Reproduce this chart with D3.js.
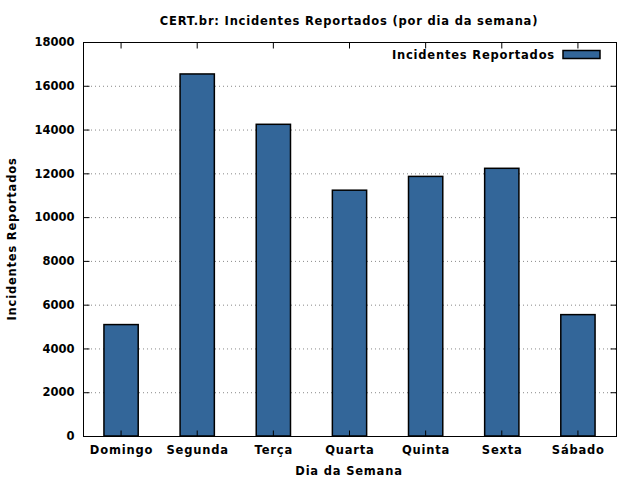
<!DOCTYPE html>
<html><head><meta charset="utf-8">
<script src="https://cdn.jsdelivr.net/npm/d3@7"></script>
<style>body{margin:0;background:#fff}text{font-family:"DejaVu Sans",sans-serif;font-weight:bold;font-size:11.5px;fill:#000;letter-spacing:0.8px}</style>
</head><body>
<svg id="c" width="640" height="480"></svg>
<script>
const categories = ["Domingo","Segunda","Terça","Quarta","Quinta","Sexta","Sábado"];
const values = [5090, 16540, 14240, 11230, 11860, 12230, 5545];
const yTicks = [0,2000,4000,6000,8000,10000,12000,14000,16000,18000];
const seriesName = "Incidentes Reportados";

const svg = d3.select("#c");
const m = {l:83, r:616, t:42, b:436};
const x = d3.scaleBand().domain(categories).range([m.l, m.r]).paddingInner(0).paddingOuter(0);
const y = d3.scaleLinear().domain([0,18000]).range([m.b, m.t]);

// grid
svg.append("g").selectAll("line").data(yTicks.slice(1,-1)).join("line")
  .attr("x1", m.l).attr("x2", m.r).attr("y1", d=>y(d)+0.5).attr("y2", d=>y(d)+0.5)
  .attr("stroke", "#888").attr("stroke-width", 1).attr("stroke-dasharray", "1,3");

// bars
const bw = x.bandwidth()*0.45;
svg.append("g").selectAll("rect").data(values).join("rect")
  .attr("x", (d,i)=>x(categories[i]) + x.bandwidth()/2 - bw/2)
  .attr("y", d=>y(d))
  .attr("width", bw).attr("height", d=>y(0)-y(d))
  .attr("fill", "#336699").attr("stroke", "#000").attr("stroke-width", 1.5);

// frame
svg.append("rect").attr("x", m.l+0.5).attr("y", m.t+0.5).attr("width", m.r-m.l).attr("height", m.b-m.t)
  .attr("fill","none").attr("stroke","#000").attr("stroke-width",1);

// axes
const yl = d3.axisLeft(y).tickValues(yTicks).tickSize(-6).tickPadding(9).tickFormat(d3.format("d"));
const ga = svg.append("g").attr("transform", `translate(${m.l+0.5},0)`).call(yl);
const yr = d3.axisRight(y).tickValues(yTicks).tickSize(-6).tickFormat("");
svg.append("g").attr("transform", `translate(${m.r+0.5},0)`).call(yr);
const xb = d3.axisBottom(x).tickSize(-6).tickPadding(9);
const gx = svg.append("g").attr("transform", `translate(0,${m.b+0.5})`).call(xb);
const xt = d3.axisTop(x).tickSize(-6).tickFormat("");
svg.append("g").attr("transform", `translate(0,${m.t+0.5})`).call(xt);
svg.selectAll(".domain").remove();
svg.selectAll(".tick line").attr("stroke","#000");
svg.selectAll(".tick text").style("font-family","DejaVu Sans").style("font-weight","bold").style("font-size","11.5px").attr("fill","#000");
ga.selectAll(".tick text").style("letter-spacing","0px");
gx.selectAll(".tick text").style("letter-spacing","0.8px").attr("dx","0.4");

// titles
svg.append("text").attr("x", 349).attr("y", 25).attr("text-anchor","middle").text("CERT.br: Incidentes Reportados (por dia da semana)");
svg.append("text").attr("x", 349).attr("y", 475).attr("text-anchor","middle").text("Dia da Semana");
svg.append("text").attr("transform","translate(16,239) rotate(-90)").attr("text-anchor","middle").text(seriesName);

// legend
svg.append("text").attr("x", 555).attr("y", 59).attr("text-anchor","end").text(seriesName);
svg.append("rect").attr("x", 563).attr("y", 50.5).attr("width", 37).attr("height", 8)
  .attr("fill","#336699").attr("stroke","#000").attr("stroke-width",1.5);
</script>
</body></html>
